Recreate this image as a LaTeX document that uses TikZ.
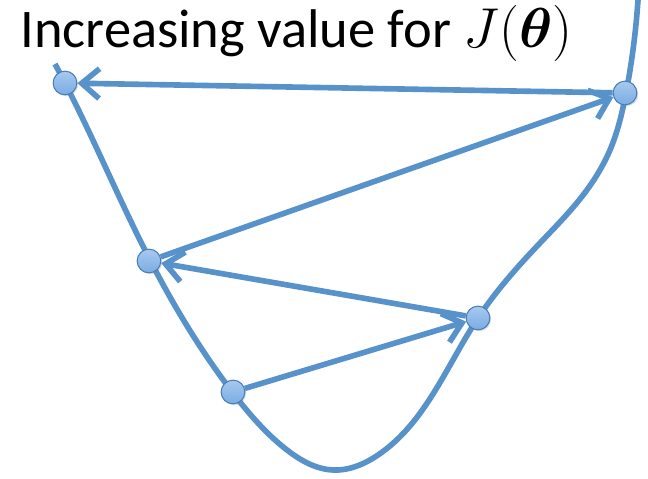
\RequirePackage{fix-cm}
\documentclass[tikz,border=0pt]{standalone}
\usepackage{amsmath}
\usepackage{fontspec}
\setmainfont{Carlito}
\usetikzlibrary{arrows.meta,shadows,hobby}

\definecolor{curveblue}{RGB}{88,146,202}
\definecolor{dotfill}{RGB}{120,172,228}
\definecolor{dotedge}{RGB}{70,125,185}

\begin{document}
\begin{tikzpicture}[
    x=0.02cm, y=-0.02cm,
    curve/.style={curveblue, line width=3.2pt},
    step arrow/.style={curveblue, line width=3.2pt,
                       -{Straight Barb[length=10pt, width=17pt, line width=3.2pt]}},
    dot/.style={circle, minimum size=13.5pt, inner sep=0pt,
                draw=dotedge, line width=0.6pt,
                top color=dotfill!65!white, bottom color=dotfill,
                drop shadow={opacity=0.25, shadow xshift=0.8pt, shadow yshift=-0.8pt}}
]
\useasboundingbox (0,0) rectangle (648,479);

% =========================================================
% the cost curve
% =========================================================
\draw[curve] (55,64) to[curve through={(65,83) (150,260) (233,393)
    (287,450) (333,470) (378,455) (478,318) (540,243)
    (580,199) (610,150) (626,93)}] (638,0);

% title
\node[anchor=base west, inner sep=0pt, font=\fontsize{31}{36}\selectfont]
      (title) at (20,48)
      {Increasing value for \fontsize{32}{40}\selectfont$J(\boldsymbol{\theta})$};

% =========================================================
% the iterates
% =========================================================
\node[dot] (t0) at (233,392) {};
\node[dot] (t1) at (478,318) {};
\node[dot] (t2) at (149,261) {};
\node[dot] (t3) at (625,93) {};
\node[dot] (t4) at (65,83) {};

% steps, each one overshooting the minimum
\draw[step arrow] (t0) -- (t1);
\draw[step arrow] (t1) -- (t2);
\draw[step arrow] (t2) -- (t3);
\draw[step arrow] (t3) -- (t4);

\end{tikzpicture}
\end{document}
